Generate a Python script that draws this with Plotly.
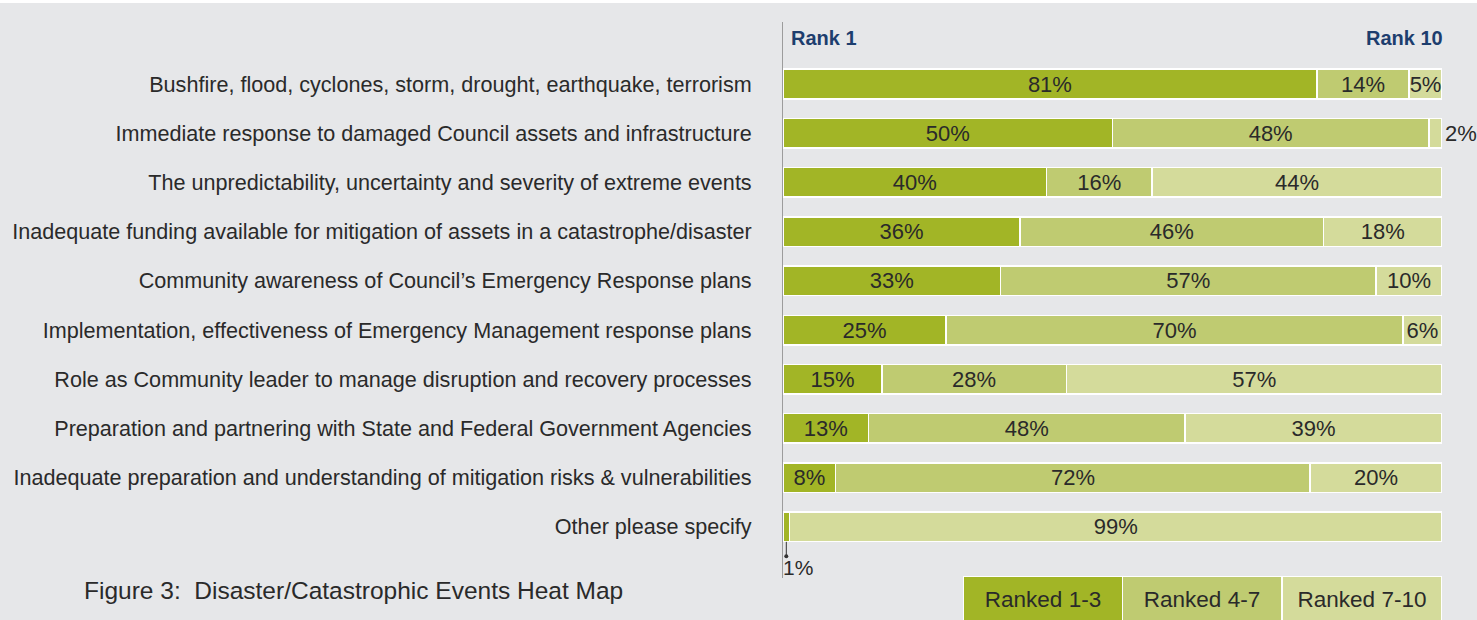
import plotly.graph_objects as go

categories = [
    "Bushfire, flood, cyclones, storm, drought, earthquake, terrorism",
    "Immediate response to damaged Council assets and infrastructure",
    "The unpredictability, uncertainty and severity of extreme events",
    "Inadequate funding available for mitigation of assets in a catastrophe/disaster",
    "Community awareness of Council\u2019s Emergency Response plans",
    "Implementation, effectiveness of Emergency Management response plans",
    "Role as Community leader to manage disruption and recovery processes",
    "Preparation and partnering with State and Federal Government Agencies",
    "Inadequate preparation and understanding of mitigation risks & vulnerabilities",
    "Other please specify",
]
ranked_1_3 = [81, 50, 40, 36, 33, 25, 15, 13, 8, 1]
ranked_4_7 = [14, 48, 16, 46, 57, 70, 28, 48, 72, 0]
ranked_7_10 = [5, 2, 44, 18, 10, 6, 57, 39, 20, 99]
series_names = ["Ranked 1-3", "Ranked 4-7", "Ranked 7-10"]
colors = ["#a2b526", "#bfcb71", "#d4db9b"]

FONT = "Liberation Sans, Arial, Helvetica, sans-serif"
TXT = "#2a2a2a"
BG = "#e6e7e9"

fig = go.Figure()
series = [ranked_1_3, ranked_4_7, ranked_7_10]
for si, (name, vals, col) in enumerate(zip(series_names, series, colors)):
    texts = []
    positions = []
    for ci, v in enumerate(vals):
        if v <= 1:
            texts.append("")
        else:
            texts.append(f"{v}%")
        if si == 2 and v <= 2:
            positions.append("outside")
        else:
            positions.append("inside")
    fig.add_trace(go.Bar(
        name=name,
        y=categories,
        x=vals,
        orientation="h",
        marker=dict(color=col, line=dict(color="white", width=1.5)),
        width=0.6,
        text=texts,
        textposition=positions,
        insidetextanchor="middle",
        textfont=dict(family=FONT, size=22, color=TXT),
        insidetextfont=dict(family=FONT, size=22, color=TXT),
        outsidetextfont=dict(family=FONT, size=22, color=TXT),
        cliponaxis=False,
        hoverinfo="skip",
        showlegend=False,
    ))

annotations = []
annotations.append(dict(x=0, y=0.971, xref="paper", yref="paper", text="<b>Rank 1</b>",
                        showarrow=False, xanchor="left", yanchor="middle", xshift=6,
                        font=dict(family=FONT, size=20, color="#1d3e6e")))
annotations.append(dict(x=1, y=0.971, xref="paper", yref="paper", text="<b>Rank 10</b>",
                        showarrow=False, xanchor="right", yanchor="middle", xshift=3,
                        font=dict(family=FONT, size=20, color="#1d3e6e")))
last = len(categories) - 1
annotations.append(dict(x=ranked_1_3[last] / 2, y=last, xref="x", yref="y",
                        text=" ", showarrow=True, ax=0, ay=17, axref="pixel", ayref="pixel",
                        yshift=-15, arrowside="start", startarrowhead=6, startarrowsize=1,
                        arrowwidth=1, arrowcolor="#333", arrowhead=0,
                        font=dict(size=2)))
annotations.append(dict(x=0, y=last, xref="x", yref="y", text=f"{ranked_1_3[last]}%",
                        showarrow=False, xanchor="left", yanchor="middle", yshift=-41, xshift=-2,
                        font=dict(family=FONT, size=21, color=TXT)))
annotations.append(dict(x=-1.064, y=-0.0216, xref="paper", yref="paper",
                        text="Figure 3:&nbsp; Disaster/Catastrophic Events Heat Map",
                        showarrow=False, xanchor="left", yanchor="middle",
                        font=dict(family=FONT, size=24.5, color=TXT)))
legend_x = [0.3938, 0.6358, 0.8786]
for name, col, lx in zip(series_names, colors, legend_x):
    annotations.append(dict(x=lx, y=-0.0378, xref="paper", yref="paper", text=name,
                            showarrow=False, xanchor="center", yanchor="middle",
                            width=158, height=44, bgcolor=col, bordercolor="white",
                            borderwidth=1, borderpad=0,
                            font=dict(family=FONT, size=22.5, color=TXT)))

fig.update_layout(
    width=1477, height=620,
    barmode="stack", barnorm="percent",
    paper_bgcolor=BG, plot_bgcolor=BG,
    margin=dict(l=783, r=35, t=22, b=42, pad=0, autoexpand=False),
    uniformtext=dict(minsize=21, mode="show"),
    annotations=annotations,
    shapes=[dict(type="rect", xref="paper", yref="paper", x0=-1.3, x1=1.1,
                 y0=1.034, y1=1.06, fillcolor="white", line=dict(width=0), layer="below")],
    font=dict(family=FONT, color=TXT),
)
fig.update_xaxes(range=[0, 100], showticklabels=False, showgrid=False, zeroline=False,
                 showline=False, fixedrange=True, automargin=False)
fig.update_yaxes(type="category", categoryorder="array", categoryarray=categories,
                 range=[10.04, -1.26], showgrid=False, zeroline=False,
                 showline=True, linecolor="#9c9c9c", linewidth=1,
                 ticks="", ticklabelstandoff=26, automargin=False,
                 tickfont=dict(family=FONT, size=21.6, color=TXT), fixedrange=True)

fig.write_html("out.html", config={"displayModeBar": False},
               post_script="document.body.style.margin='0';document.body.style.overflow='hidden';")
